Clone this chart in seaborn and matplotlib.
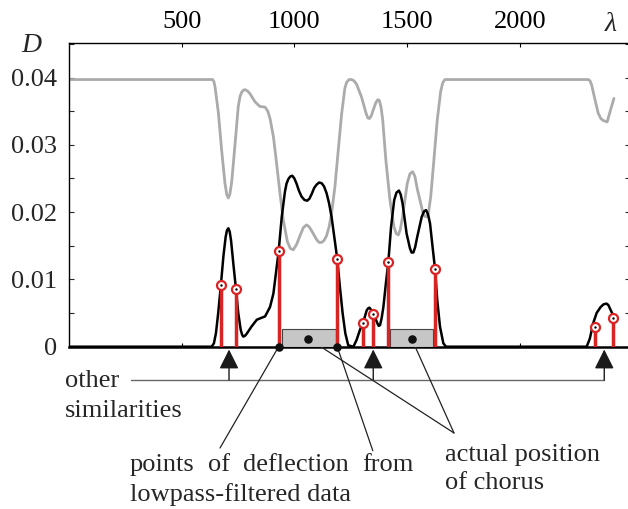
import numpy as np
import pandas as pd
import matplotlib
matplotlib.use("Agg")
import matplotlib.pyplot as plt
import seaborn as sns
from matplotlib.ticker import FixedLocator, MultipleLocator
from matplotlib.transforms import blended_transform_factory

# similarity curve D(lambda) (black)
black_x = [0, 633, 643, 652, 662, 674, 685, 695, 701, 707,
           713, 719, 729, 741, 751, 762, 768, 773, 780, 788,
           810, 833, 847, 870, 892, 907, 918, 930, 944, 958,
           965, 973, 982, 991, 1000, 1010, 1020, 1032, 1045, 1057,
           1067, 1077, 1088, 1099, 1110, 1121, 1132, 1143, 1154, 1165,
           1180, 1190, 1202, 1214, 1226, 1239, 1262, 1276, 1291, 1306,
           1321, 1327, 1333, 1340, 1350, 1368, 1374, 1380, 1387, 1395,
           1406, 1417, 1429, 1443, 1453, 1464, 1472, 1480, 1498, 1513,
           1520, 1528, 1536, 1545, 1565, 1575, 1584, 1593, 1602, 1613,
           1624, 1634, 1646, 1661, 1673, 2297, 2311, 2326, 2341, 2359,
           2372, 2385, 2393, 2400, 2418]
black_y = [0, 0, 0.0005, 0.0020, 0.0050, 0.0092, 0.0134, 0.0163, 0.0173, 0.0176,
           0.0171, 0.0158, 0.0124, 0.0085, 0.0050, 0.0025, 0.0018, 0.0015, 0.0016, 0.0019,
           0.0030, 0.0040, 0.0042, 0.0045, 0.0059, 0.0079, 0.0109, 0.0141, 0.0193, 0.0230,
           0.0242, 0.0249, 0.0253, 0.0254, 0.0250, 0.0242, 0.0232, 0.0223, 0.0218, 0.0217,
           0.0220, 0.0227, 0.0236, 0.0241, 0.0244, 0.0243, 0.0238, 0.0228, 0.0213, 0.0193,
           0.0156, 0.0131, 0.0089, 0.0050, 0.0020, 0.0002, 0, 0.0010, 0.0025, 0.0037,
           0.0054, 0.0057, 0.0058, 0.0055, 0.0050, 0.0035, 0.0031, 0.0032, 0.0042, 0.0059,
           0.0094, 0.0126, 0.0178, 0.0218, 0.0229, 0.0232, 0.0226, 0.0213, 0.0168, 0.0146,
           0.0140, 0.0140, 0.0148, 0.0163, 0.0193, 0.0201, 0.0203, 0.0197, 0.0183, 0.0149,
           0.0116, 0.0069, 0.0030, 0.0005, 0, 0, 0.0012, 0.0035, 0.0050, 0.0059,
           0.0063, 0.0064, 0.0062, 0.0057, 0.0044]

# lowpass-filtered curve (grey)
grey_x = [0, 637, 643, 648, 663, 677, 692, 700, 707, 714,
          722, 737, 751, 759, 766, 773, 781, 792, 803, 825,
          847, 870, 882, 892, 907, 921, 936, 951, 969, 982,
          995, 1010, 1025, 1040, 1054, 1066, 1077, 1099, 1110, 1121,
          1132, 1143, 1154, 1165, 1180, 1195, 1210, 1224, 1232, 1243,
          1254, 1265, 1276, 1298, 1318, 1326, 1333, 1341, 1350, 1362,
          1370, 1377, 1385, 1392, 1406, 1424, 1442, 1452, 1461, 1470,
          1480, 1501, 1513, 1525, 1535, 1545, 1569, 1578, 1587, 1596,
          1605, 1619, 1634, 1649, 1658, 1668, 2304, 2312, 2319, 2334,
          2348, 2360, 2371, 2388, 2403, 2418]
grey_y = [0.0397, 0.0397, 0.0394, 0.0386, 0.0347, 0.0293, 0.0243, 0.0226, 0.0221, 0.0227,
          0.0245, 0.0302, 0.0357, 0.0372, 0.0378, 0.0381, 0.0382, 0.0380, 0.0376, 0.0364,
          0.0357, 0.0356, 0.0350, 0.0339, 0.0312, 0.0273, 0.0228, 0.0188, 0.0156, 0.0146,
          0.0144, 0.0152, 0.0165, 0.0177, 0.0181, 0.0178, 0.0172, 0.0159, 0.0155, 0.0155,
          0.0158, 0.0165, 0.0178, 0.0198, 0.0238, 0.0293, 0.0347, 0.0384, 0.0393, 0.0397,
          0.0397, 0.0395, 0.0390, 0.0371, 0.0347, 0.0340, 0.0339, 0.0343, 0.0352, 0.0363,
          0.0367, 0.0366, 0.0355, 0.0337, 0.0277, 0.0218, 0.0178, 0.0168, 0.0166, 0.0174,
          0.0193, 0.0243, 0.0257, 0.0260, 0.0253, 0.0235, 0.0201, 0.0194, 0.0193, 0.0201,
          0.0223, 0.0277, 0.0337, 0.0379, 0.0392, 0.0397, 0.0397, 0.0395, 0.0389, 0.0367,
          0.0347, 0.0339, 0.0336, 0.0334, 0.0352, 0.0369]

# candidate points (red stems)
stem_x = [674, 741, 930, 1190, 1306, 1350, 1417, 1624, 2334, 2415]
stem_y = [0.0092, 0.0085, 0.0142, 0.0131, 0.0035, 0.0049, 0.0126, 0.0116, 0.0030, 0.0042]

# actual chorus positions
chorus_start = [944, 1424]
chorus_end = [1183, 1616]
chorus_height = 0.0027
chorus_mid = [1062, 1520]
chorus_mid_y = 0.0012

# deflection points and other similarities
deflect_x = [930, 1190]
similar_x = [710, 1350, 2375]

xticks = [500, 1000, 1500, 2000]
yticks = [0, 0.01, 0.02, 0.03, 0.04]
ytick_labels = ["0", "0.01", "0.02", "0.03", "0.04"]

assert len(black_x) == len(black_y) and len(grey_x) == len(grey_y)

sns.set_theme(style="ticks")
plt.rcParams["font.family"] = ["Liberation Serif", "DejaVu Serif"]

W, H = 628, 509
fig = plt.figure(figsize=(W / 100, H / 100), dpi=100)
ax = fig.add_axes([69 / W, 1 - 346.7 / H, 560.5 / W, 303.7 / H])

red = "#d92424"

sns.lineplot(x=grey_x, y=grey_y, color="#ababab", lw=2, ax=ax, estimator=None,
             sort=False, zorder=2, solid_joinstyle="round")
sns.lineplot(x=black_x, y=black_y, color="black", lw=1.8, ax=ax, estimator=None,
             sort=False, zorder=3, solid_joinstyle="round")

ax.bar(chorus_start, chorus_height,
       width=np.array(chorus_end) - np.array(chorus_start),
       align="edge", color="#c6c6c6", edgecolor="#444444", lw=0.8, zorder=4)

ax.vlines(stem_x, 0, stem_y, color=red, lw=2.5, zorder=5)
sns.scatterplot(x=stem_x, y=stem_y, ax=ax, marker="o", s=42, facecolor="white",
                edgecolor=red, linewidth=1.6, zorder=6, clip_on=False)
sns.scatterplot(x=stem_x, y=stem_y, ax=ax, marker="o", s=3, color="black",
                linewidth=0, zorder=7)

sns.scatterplot(x=deflect_x, y=[0] * len(deflect_x), ax=ax, s=38, color="#111111",
                linewidth=0, zorder=8, clip_on=False)
sns.scatterplot(x=chorus_mid, y=[chorus_mid_y] * len(chorus_mid), ax=ax, s=38,
                color="#111111", linewidth=0, zorder=8)

ax.set_xlim(0, 2487)
ax.set_ylim(0, 0.04513)
ax.set_xlabel("")
ax.set_ylabel("")

ax.xaxis.set_major_locator(FixedLocator(xticks))
ax.yaxis.set_major_locator(FixedLocator(yticks))
ax.yaxis.set_minor_locator(MultipleLocator(0.005))
ax.set_yticklabels(ytick_labels)
ax.tick_params(axis="x", which="major", direction="in", top=True, bottom=True,
               labeltop=True, labelbottom=False, length=3, width=0.8,
               pad=7, labelsize=19, colors="black")
ax.tick_params(axis="y", which="both", direction="in", left=True, right=True,
               length=3.5, width=0.8, pad=8.5, labelsize=19)
ax.tick_params(axis="x", which="minor", top=False, bottom=False)

for side in ["left", "top", "right"]:
    ax.spines[side].set_linewidth(1.0)
    ax.spines[side].set_color("black")
ax.spines["bottom"].set_linewidth(1.8)
ax.spines["bottom"].set_color("black")

# axis symbols
fig.text(31 / W, 1 - 45.5 / H, "D", fontsize=20, fontstyle="italic",
         ha="center", va="center")
fig.text(611 / W, 1 - 24.5 / H, "λ", fontsize=20, fontstyle="italic",
         ha="center", va="center")

# "other similarities" arrows
blend = blended_transform_factory(ax.transData, fig.transFigure)
y_bar = 1 - 380 / H
y_tip = 1 - 349.5 / H
for sx in similar_x:
    ax.annotate("", xy=(sx, y_tip), xycoords=blend, xytext=(sx, y_bar),
                textcoords=blend, annotation_clip=False,
                arrowprops=dict(arrowstyle="-|>,head_length=0.6,head_width=0.3",
                                mutation_scale=20, color="#1a1a1a", lw=1,
                                shrinkA=0, shrinkB=0))
ax.plot([274, similar_x[-1]], [y_bar, y_bar], transform=blend, color="#666666",
        lw=1, clip_on=False)

# deflection point leaders
for dx, tx, ty in zip(deflect_x, [220, 372.8], [448, 450.7]):
    ax.annotate("", xy=(dx, 0), xycoords="data", xytext=(tx / W, 1 - ty / H),
                textcoords="figure fraction", annotation_clip=False,
                arrowprops=dict(arrowstyle="-", color="#222222", lw=0.9,
                                shrinkA=0, shrinkB=0))

# chorus leaders
for cx in chorus_mid:
    ax.annotate("", xy=(cx, chorus_mid_y), xycoords="data",
                xytext=(454 / W, 1 - 433 / H), textcoords="figure fraction",
                annotation_clip=False,
                arrowprops=dict(arrowstyle="-", color="#222222", lw=0.9,
                                shrinkA=0, shrinkB=0))

fs = 19
fig.text(65 / W, 1 - 387.3 / H, "other", fontsize=fs, va="baseline")
fig.text(65 / W, 1 - 417.3 / H, "similarities", fontsize=fs, va="baseline")
for word, wx in zip(["points", "of", "deflection", "from"], [130, 208, 243, 362]):
    fig.text(wx / W, 1 - 470.7 / H, word, fontsize=fs, va="baseline")
fig.text(130 / W, 1 - 500.7 / H, "lowpass-filtered data", fontsize=fs, va="baseline")
fig.text(445 / W, 1 - 460.7 / H, "actual position", fontsize=fs, va="baseline")
fig.text(445 / W, 1 - 489.3 / H, "of chorus", fontsize=fs, va="baseline")

fig.savefig("out.png", dpi=100)
